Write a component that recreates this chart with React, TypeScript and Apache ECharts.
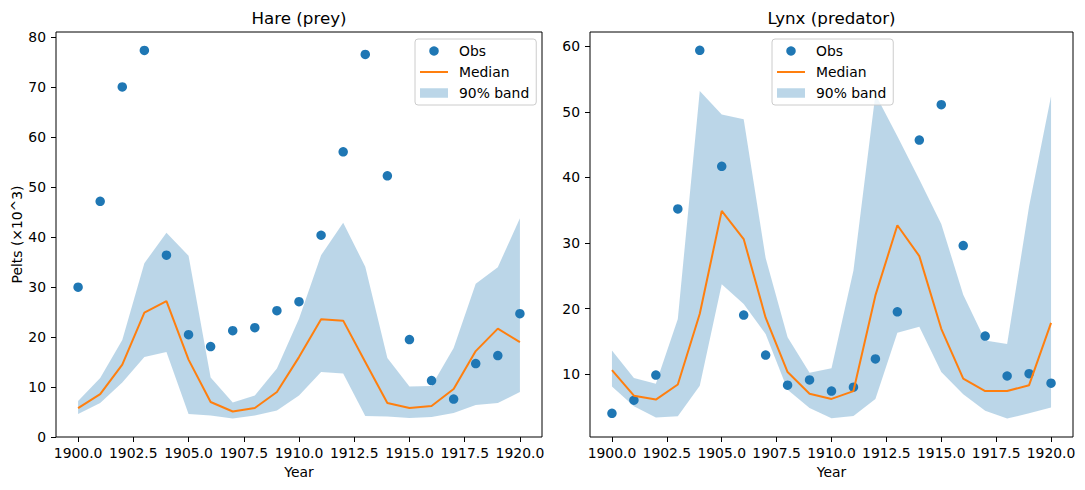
import React, { useEffect, useRef } from "react";
import * as echarts from "echarts";

const years = [1900, 1901, 1902, 1903, 1904, 1905, 1906, 1907, 1908, 1909, 1910, 1911, 1912, 1913, 1914, 1915, 1916, 1917, 1918, 1919, 1920];

const hareObs = [30.0, 47.2, 70.1, 77.4, 36.4, 20.5, 18.1, 21.3, 21.9, 25.3, 27.1, 40.4, 57.1, 76.6, 52.3, 19.5, 11.3, 7.6, 14.7, 16.3, 24.7];
const hareMedian = [5.8, 8.6, 14.5, 24.9, 27.2, 15.5, 7.0, 5.1, 5.8, 9.0, 16.0, 23.6, 23.3, 15.0, 6.8, 5.8, 6.2, 9.6, 17.2, 21.7, 19.0];
const hareLow = [4.6, 6.8, 10.9, 16.0, 17.0, 4.6, 4.3, 3.7, 4.3, 5.3, 8.3, 13.0, 12.7, 4.2, 4.1, 3.8, 4.0, 4.8, 6.4, 6.8, 9.0];
const hareHigh = [7.2, 11.8, 19.4, 34.8, 40.9, 36.3, 11.9, 6.9, 8.3, 13.7, 23.7, 36.4, 42.9, 34.1, 15.8, 10.1, 10.2, 17.8, 30.7, 34.0, 43.8];

const lynxObs = [4.0, 6.0, 9.85, 35.2, 59.4, 41.7, 19.0, 12.9, 8.3, 9.1, 7.4, 8.0, 12.3, 19.5, 45.7, 51.1, 29.6, 15.8, 9.7, 10.05, 8.6];
const lynxMedian = [10.6, 6.7, 6.1, 8.4, 19.2, 34.9, 30.6, 18.6, 10.3, 7.0, 6.2, 7.4, 22.0, 32.7, 28.0, 16.9, 9.3, 7.4, 7.4, 8.3, 17.8];
const lynxLow = [8.1, 5.1, 3.35, 3.55, 8.2, 23.7, 20.7, 16.1, 7.6, 4.8, 3.25, 3.6, 6.2, 16.3, 17.2, 10.3, 6.9, 4.4, 3.2, 4.0, 4.9];
const lynxHigh = [13.6, 9.4, 8.5, 18.4, 53.2, 49.6, 48.9, 27.7, 15.6, 10.2, 10.9, 25.8, 52.7, 46.3, 39.7, 32.9, 22.1, 15.1, 14.6, 35.6, 52.4];

const xTicks = [1900, 1902.5, 1905, 1907.5, 1910, 1912.5, 1915, 1917.5, 1920];
const hareYTicks = [0, 10, 20, 30, 40, 50, 60, 70, 80];
const lynxYTicks = [10, 20, 30, 40, 50, 60];

const titles = ["Hare (prey)", "Lynx (predator)"];
const legendNames = ["Obs", "Median", "90% band"];

const FONT = "DejaVu Sans";
const FS = 13.9;
const BLUE = "#1f77b4";
const ORANGE = "#ff7f0e";
const BAND = "rgba(31,119,180,0.3)";

const grids = [
  { left: 56, top: 32, width: 486, height: 405 },
  { left: 590, top: 32, width: 483, height: 405 },
];

function bandSeries(idx: number, low: number[], high: number[]) {
  return {
    type: "custom",
    name: legendNames[2],
    xAxisIndex: idx,
    yAxisIndex: idx,
    z: 1,
    silent: true,
    itemStyle: { color: BAND },
    data: years.map((y, i) => [y, low[i], high[i]]),
    encode: { x: 0, y: [1, 2] },
    renderItem: (params: any, api: any) => {
      if (params.dataIndex !== 0) return null;
      const pts: number[][] = [];
      years.forEach((y, i) => pts.push(api.coord([y, high[i]])));
      for (let i = years.length - 1; i >= 0; i--) pts.push(api.coord([years[i], low[i]]));
      return { type: "polygon", shape: { points: pts }, style: { fill: BAND } };
    },
  };
}

export default function App() {
  const ref = useRef<HTMLDivElement>(null);
  useEffect(() => {
    if (!ref.current) return;
    const chart = echarts.init(ref.current, null, { renderer: "svg" });
    const yMin = [0, 0.39];
    const yMax = [81.1, 62.2];
    const yTicks = [hareYTicks, lynxYTicks];
    const obs = [hareObs, lynxObs];
    const med = [hareMedian, lynxMedian];
    const low = [hareLow, lynxLow];
    const high = [hareHigh, lynxHigh];
    const legendLeft = [415, 772];

    const option: any = {
      animation: false,
      backgroundColor: "#fff",
      textStyle: { fontFamily: FONT },
      grid: grids.map((g) => ({ ...g, show: true, borderColor: "#000", borderWidth: 1, backgroundColor: "transparent" })),
      xAxis: [0, 1].map((i) => ({
        gridIndex: i,
        type: "value",
        min: 1899,
        max: 1921,
        name: "Year",
        nameLocation: "middle",
        nameGap: 27,
        nameTextStyle: { fontSize: FS, color: "#000", fontFamily: FONT },
        axisLine: { show: false },
        axisTick: { show: true, length: 5, lineStyle: { color: "#000", width: 1 }, customValues: xTicks },
        axisLabel: { customValues: xTicks, formatter: (v: number) => v.toFixed(1), fontSize: FS, color: "#000", margin: 9, fontFamily: FONT },
        splitLine: { show: false },
      })),
      yAxis: [0, 1].map((i) => ({
        gridIndex: i,
        type: "value",
        min: yMin[i],
        max: yMax[i],
        name: i === 0 ? "Pelts (×10^3)" : "",
        nameLocation: "middle",
        nameRotate: 90,
        nameGap: 32,
        nameTextStyle: { fontSize: FS, color: "#000", fontFamily: FONT },
        axisLine: { show: false },
        axisTick: { show: true, length: 5, lineStyle: { color: "#000", width: 1 }, customValues: yTicks[i] },
        axisLabel: { customValues: yTicks[i], fontSize: FS, color: "#000", margin: 10, fontFamily: FONT },
        splitLine: { show: false },
      })),
      legend: [0, 1].map((i) => ({
        left: legendLeft[i],
        top: 39,
        orient: "vertical",
        data: [
          { name: "Obs", icon: "circle" },
          { name: "Median", icon: "path://M0,0H28V2H0Z" },
          { name: "90% band", icon: "rect" },
        ],
        itemWidth: 28,
        itemHeight: 9.5,
        itemGap: 7,
        symbolKeepAspect: true,
        padding: [5, 7, 5, 5],
        backgroundColor: "rgba(255,255,255,0.8)",
        borderColor: "#cccccc",
        borderWidth: 1,
        borderRadius: 3,
        selectedMode: false,
        textStyle: { fontSize: FS, color: "#000", fontFamily: FONT, padding: [0, 0, 0, 6] },
      })),
      graphic: [0, 1].map((i) => ({
        type: "text",
        x: grids[i].left + grids[i].width / 2,
        y: 18,
        style: {
          text: titles[i],
          fontSize: 16.7,
          fontFamily: FONT,
          fill: "#000",
          align: "center",
          verticalAlign: "middle",
          textAlign: "center",
          textVerticalAlign: "middle",
        },
      })),
      series: [0, 1].flatMap((i) => [
        bandSeries(i, low[i], high[i]),
        {
          type: "scatter",
          name: "Obs",
          xAxisIndex: i,
          yAxisIndex: i,
          z: 2,
          symbol: "circle",
          symbolSize: 9.5,
          itemStyle: { color: BLUE, opacity: 1 },
          data: years.map((y, k) => [y, obs[i][k]]),
        },
        {
          type: "line",
          name: "Median",
          xAxisIndex: i,
          yAxisIndex: i,
          z: 3,
          symbol: "none",
          showSymbol: false,
          lineStyle: { color: ORANGE, width: 2 },
          itemStyle: { color: ORANGE },
          data: years.map((y, k) => [y, med[i][k]]),
        },
      ]),
    };
    chart.setOption(option);
    return () => chart.dispose();
  }, []);
  return (
    <div
      ref={ref}
      style={{ position: "fixed", left: 0, top: 0, width: 1085, height: 490, background: "#fff" }}
    />
  );
}
